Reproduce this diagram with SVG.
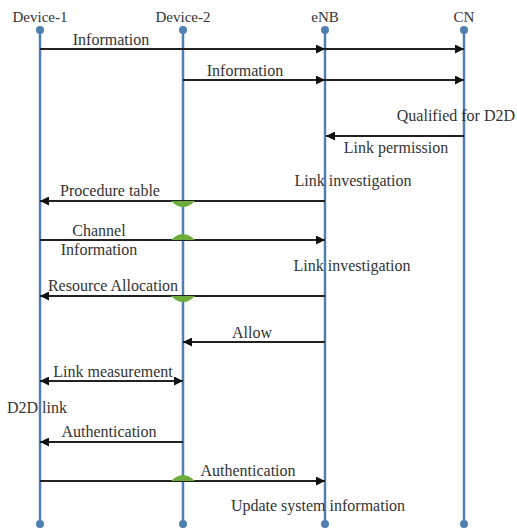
<svg xmlns="http://www.w3.org/2000/svg" width="517" height="530" viewBox="0 0 517 530">
<defs>
<style>
text{font-family:'Liberation Serif','DejaVu Serif',Times,serif;font-size:16px;fill:#333}
.hd{font-size:15px}
.life{stroke:#4f80b0;stroke-width:2.5}
.dot{fill:#4f80b0}
.msg{stroke:#222;stroke-width:1.8;fill:none}
.hop{fill:#6cab3c}
</style>
<marker id="ah" viewBox="0 0 10 10" refX="10" refY="5" markerWidth="11" markerHeight="9" markerUnits="userSpaceOnUse" orient="auto-start-reverse">
<path d="M0,0 L10,5 L0,10 Z" fill="#111"/>
</marker>
</defs>
<rect width="517" height="530" fill="#fff"/>
<g id="device1">
<line class="life" x1="40" y1="30" x2="40" y2="524"/>
<circle class="dot" cx="40" cy="30" r="4"/>
<circle class="dot" cx="40" cy="524" r="4"/>
<text class="hd" x="40" y="22" text-anchor="middle">Device-1</text>
</g>
<g id="device2">
<line class="life" x1="183" y1="30" x2="183" y2="524"/>
<circle class="dot" cx="183" cy="30" r="4"/>
<circle class="dot" cx="183" cy="524" r="4"/>
<text class="hd" x="183" y="22" text-anchor="middle">Device-2</text>
</g>
<g id="enb">
<line class="life" x1="325" y1="30" x2="325" y2="524"/>
<circle class="dot" cx="325" cy="30" r="4"/>
<circle class="dot" cx="325" cy="524" r="4"/>
<text class="hd" x="325" y="22" text-anchor="middle">eNB</text>
</g>
<g id="cn">
<line class="life" x1="464" y1="30" x2="464" y2="524"/>
<circle class="dot" cx="464" cy="30" r="4"/>
<circle class="dot" cx="464" cy="524" r="4"/>
<text class="hd" x="464" y="22" text-anchor="middle">CN</text>
</g>
<g id="connectors">
<line class="msg" x1="40" y1="49" x2="325" y2="49" marker-end="url(#ah)"/>
<line class="msg" x1="325" y1="49" x2="464" y2="49" marker-end="url(#ah)"/>
<line class="msg" x1="183" y1="80" x2="325" y2="80" marker-end="url(#ah)"/>
<line class="msg" x1="325" y1="80" x2="464" y2="80" marker-end="url(#ah)"/>
<line class="msg" x1="464" y1="136" x2="326" y2="136" marker-end="url(#ah)"/>
<line class="msg" x1="325" y1="201" x2="40" y2="201" marker-end="url(#ah)"/>
<line class="msg" x1="40" y1="240" x2="325" y2="240" marker-end="url(#ah)"/>
<line class="msg" x1="325" y1="296" x2="40" y2="296" marker-end="url(#ah)"/>
<line class="msg" x1="325" y1="342" x2="183" y2="342" marker-end="url(#ah)"/>
<line class="msg" x1="40" y1="381" x2="183" y2="381" marker-start="url(#ah)" marker-end="url(#ah)"/>
<line class="msg" x1="183" y1="442" x2="40" y2="442" marker-end="url(#ah)"/>
<line class="msg" x1="40" y1="481" x2="325" y2="481" marker-end="url(#ah)"/>
<path class="hop" d="M171,201 Q183,213 195,201 Z"/>
<path class="hop" d="M171,240 Q183,228 195,240 Z"/>
<path class="hop" d="M171,296 Q183,308 195,296 Z"/>
<path class="hop" d="M171,481 Q183,469 195,481 Z"/>
</g>
<g id="labels">
<text x="111" y="45" text-anchor="middle">Information</text>
<text x="245" y="76" text-anchor="middle">Information</text>
<text x="515" y="121" text-anchor="end">Qualified for D2D</text>
<text x="396" y="153" text-anchor="middle">Link permission</text>
<text x="353" y="186" text-anchor="middle">Link investigation</text>
<text x="110" y="196" text-anchor="middle">Procedure table</text>
<text x="99" y="236" text-anchor="middle">Channel</text>
<text x="99" y="255" text-anchor="middle">Information</text>
<text x="352" y="271" text-anchor="middle">Link investigation</text>
<text x="113" y="291" text-anchor="middle">Resource Allocation</text>
<text x="252" y="338" text-anchor="middle">Allow</text>
<text x="113" y="377" text-anchor="middle">Link measurement</text>
<text x="7" y="413">D2D link</text>
<text x="109" y="437" text-anchor="middle">Authentication</text>
<text x="248" y="476" text-anchor="middle">Authentication</text>
<text x="318" y="511" text-anchor="middle">Update system information</text>
</g>
</svg>
